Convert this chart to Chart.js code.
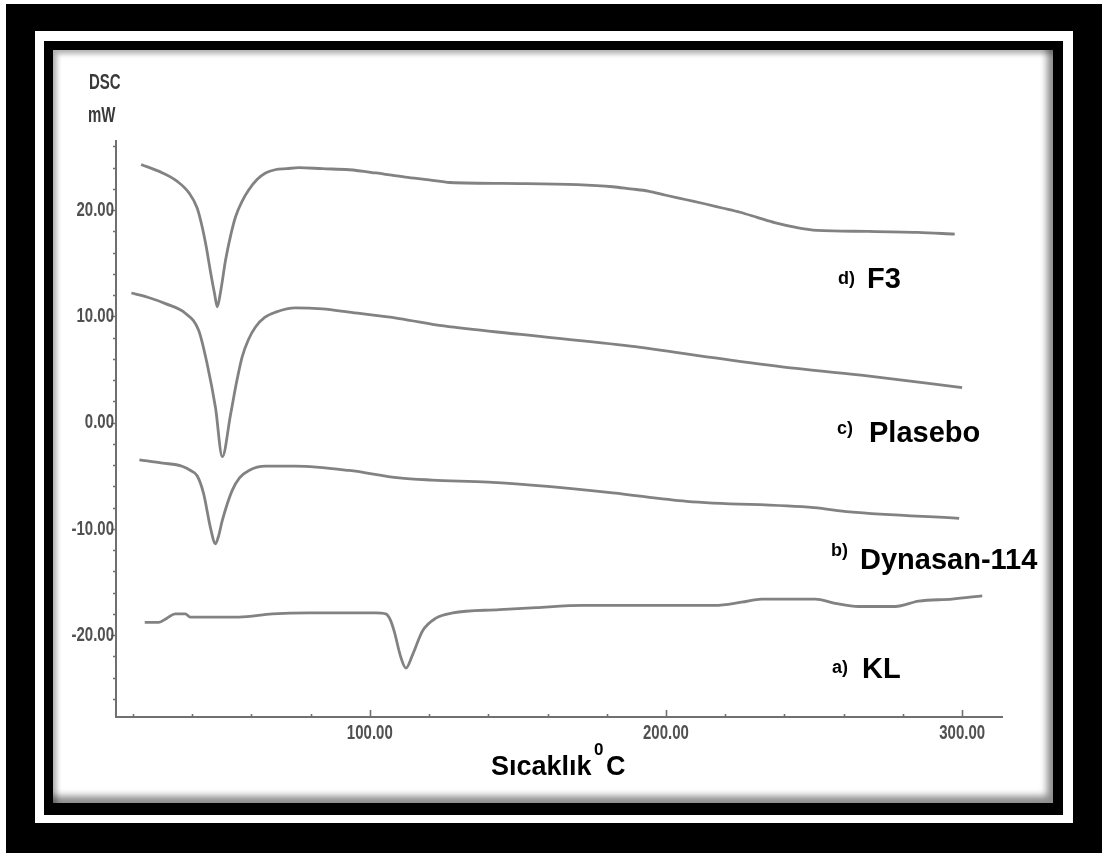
<!DOCTYPE html>
<html lang="tr">
<head>
<meta charset="utf-8">
<title>DSC - Sıcaklık</title>
<script src="https://cdn.jsdelivr.net/npm/chart.js@4.4.1/dist/chart.umd.min.js"></script>
<style>
  html, body { margin: 0; padding: 0; background: #fff; }
  .kat { position: absolute; }
  #dis { left: 6px; top: 4px; width: 1096px; height: 849px; background: #000; }
  #bosluk { left: 35px; top: 31px; width: 1038px; height: 792px; background: #fff; }
  #ic { left: 44px; top: 41px; width: 1019px; height: 774px; background: #000; }
  #panel {
    left: 53px; top: 50px; width: 1000px; height: 753px; background: #fff;
    box-shadow: inset -6px -7px 7px rgba(0,0,0,0.45), inset 4px 4px 5px rgba(0,0,0,0.3);
  }
  #grafik { position: absolute; left: 0; top: 0; }
</style>
</head>
<body>
<div class="kat" id="dis"></div>
<div class="kat" id="bosluk"></div>
<div class="kat" id="ic"></div>
<div class="kat" id="panel"></div>
<canvas id="grafik" width="1110" height="853"></canvas>

<script>
// Eksen değerleri
const xTicks = [100, 200, 300];
const xMinorTicks = [20, 40, 60, 80, 100, 120, 140, 160, 180, 200, 220, 240, 260, 280, 300];
const yTicks = [-20, -10, 0, 10, 20];
const yMinorTicks = [-26, -24, -22, -20, -18, -16, -14, -12, -10, -8, -6, -4, -2, 0,
  2, 4, 6, 8, 10, 12, 14, 16, 18, 20, 22, 24, 26];

// d) F3
const f3Temp = [22.8, 30, 35, 39, 41.7, 43.5, 44.8, 46.2, 47.6, 48.5, 49.6, 51.3, 53, 54.7, 57, 59.1,
  62, 64.8, 68, 72, 76, 84, 93, 102, 112, 120, 127, 151, 170, 182, 188, 194, 200, 206.5, 213, 219,
  225, 231, 237, 243.5, 251, 268, 285, 297.5];
const f3Heat = [24.3, 23.5, 22.7, 21.6, 20.2, 18.3, 16.5, 14.2, 12.1, 10.9, 12.3, 15.3, 17.6, 19.4, 20.9, 21.9,
  22.9, 23.5, 23.8, 23.9, 24.0, 23.9, 23.8, 23.5, 23.1, 22.85, 22.6, 22.5, 22.4, 22.2, 22.0, 21.8, 21.4, 21.0, 20.6, 20.2,
  19.8, 19.3, 18.8, 18.4, 18.1, 18.0, 17.9, 17.75];

// c) Plasebo
const plTemp = [19.5, 25, 31, 37.7, 42.2, 45.1, 47.9, 50.2, 53, 55, 56.9, 59, 61.4, 64.5, 68.2,
  74.9, 84, 93, 109.9, 125, 151, 188, 219, 244, 268, 300];
const plHeat = [12.2, 11.8, 11.2, 10.3, 8.7, 5.5, 1.4, -3.2, 0.8, 3.8, 6.2, 7.8, 9.0, 9.9, 10.4,
  10.8, 10.7, 10.4, 9.8, 9.1, 8.3, 7.2, 6.0, 5.1, 4.4, 3.3];

// b) Dynasan-114
const dyTemp = [22.2, 30, 36.6, 39.5, 41.7, 43.9, 46.2, 47.9, 49, 50.2, 53.5, 56, 59.2, 64.8, 74.9, 93,
  109.9, 121, 140, 160, 182, 207, 250, 262, 299];
const dyHeat = [-3.5, -3.8, -4.1, -4.5, -5.0, -6.7, -9.9, -11.4, -10.6, -9.2, -6.4, -5.2, -4.5, -4.1, -4.1, -4.5,
  -5.2, -5.4, -5.6, -6.0, -6.6, -7.4, -8.0, -8.4, -9.0];

// a) KL
const klTemp = [24, 28.7, 31.5, 34.3, 37.7, 39.4, 55.8, 67.1, 79.5, 102, 105.4, 107, 108.2, 110.5, 112.2,
  114.5, 117.8, 122.3, 128, 143.8, 156.2, 172, 183.2, 216.5, 225.5, 232.3, 250.4, 257.1, 265, 277.4,
  285.3, 296.6, 306.8];
const klHeat = [-18.8, -18.8, -18.4, -18.0, -18.0, -18.3, -18.3, -18.0, -17.9, -17.9, -18.0, -18.6, -19.6, -22.1, -23.1,
  -21.8, -19.6, -18.4, -17.9, -17.6, -17.4, -17.2, -17.2, -17.2, -16.9, -16.6, -16.6, -17.0, -17.3, -17.3,
  -16.8, -16.6, -16.3];

function seri(temps, heats) {
  return temps.map((t, i) => ({ x: t, y: heats[i] }));
}

function egri(name, temps, heats) {
  return {
    label: name,
    data: seri(temps, heats),
    borderColor: "#828282",
    borderWidth: 2.8,
    pointRadius: 0,
    fill: false,
    cubicInterpolationMode: "monotone",
  };
}

// Gerilmiş yazı (orijinaldeki dar yazı tipi gibi)
function yaz(ctx, text, px, py, align, stretch) {
  ctx.save();
  ctx.translate(px, py);
  ctx.scale(1, stretch || 1.35);
  ctx.textAlign = align;
  ctx.textBaseline = "middle";
  ctx.fillText(text, 0, 0);
  ctx.restore();
}

// Eksenler, çentikler ve yazılar
const eksenCizim = {
  id: "eksenCizim",
  afterDraw(chart) {
    const ctx = chart.ctx;
    const sx = chart.scales.x;
    const sy = chart.scales.y;
    const a = chart.chartArea;
    ctx.save();

    ctx.strokeStyle = "#707070";
    ctx.lineWidth = 2;
    ctx.beginPath();
    ctx.moveTo(a.left, a.top);
    ctx.lineTo(a.left, a.bottom);
    ctx.lineTo(a.right, a.bottom);
    ctx.stroke();

    ctx.lineWidth = 1.6;
    ctx.beginPath();
    yMinorTicks.forEach((v) => {
      const py = Math.round(sy.getPixelForValue(v)) + 0.5;
      const len = yTicks.includes(v) ? 5 : 3;
      ctx.moveTo(a.left - len, py);
      ctx.lineTo(a.left, py);
    });
    xMinorTicks.forEach((v) => {
      const px = Math.round(sx.getPixelForValue(v)) + 0.5;
      const len = xTicks.includes(v) ? 7 : 3;
      ctx.moveTo(px, a.bottom);
      ctx.lineTo(px, a.bottom - len);
    });
    ctx.stroke();

    ctx.fillStyle = "#505050";
    ctx.font = "bold 15px 'Liberation Sans', Arial, sans-serif";
    yTicks.forEach((v) => {
      yaz(ctx, v.toFixed(2), a.left - 2, sy.getPixelForValue(v), "right");
    });
    xTicks.forEach((v) => {
      yaz(ctx, v.toFixed(2), sx.getPixelForValue(v), a.bottom + 16, "center");
    });

    // DSC / mW
    ctx.fillStyle = "#3a3a3a";
    ctx.font = "bold 15px 'Liberation Sans', Arial, sans-serif";
    yaz(ctx, "DSC", 89, 83, "left", 1.5);
    yaz(ctx, "mW", 88, 116, "left", 1.45);

    // X ekseni başlığı
    ctx.fillStyle = "#000";
    ctx.textBaseline = "alphabetic";
    ctx.textAlign = "left";
    ctx.font = "bold 27px 'Liberation Sans', Arial, sans-serif";
    ctx.fillText("Sıcaklık", 491, 775);
    ctx.fillText("C", 606, 775);
    ctx.font = "bold 17px 'Liberation Sans', Arial, sans-serif";
    ctx.fillText("0", 594, 755);

    // Eğri etiketleri
    const etiketler = [
      ["d)", 838, 284, "F3", 867, 288],
      ["c)", 837, 434, "Plasebo", 869, 442],
      ["b)", 831, 556, "Dynasan-114", 860, 569],
      ["a)", 832, 673, "KL", 862, 678],
    ];
    etiketler.forEach((e) => {
      ctx.font = "bold 18px 'Liberation Sans', Arial, sans-serif";
      ctx.fillText(e[0], e[1], e[2]);
      ctx.font = "bold 29px 'Liberation Sans', Arial, sans-serif";
      ctx.fillText(e[3], e[4], e[5]);
    });

    ctx.restore();
  },
};

const config = {
  type: "line",
  data: {
    datasets: [
      egri("d) F3", f3Temp, f3Heat),
      egri("c) Plasebo", plTemp, plHeat),
      egri("b) Dynasan-114", dyTemp, dyHeat),
      egri("a) KL", klTemp, klHeat),
    ],
  },
  options: {
    responsive: false,
    animation: false,
    layout: { padding: { left: 116, top: 140, right: 107, bottom: 136 } },
    plugins: {
      legend: { display: false },
      tooltip: { enabled: false },
    },
    scales: {
      x: { type: "linear", min: 14.3, max: 313.8, display: false },
      y: { type: "linear", min: -27.7, max: 26.6, display: false },
    },
  },
  plugins: [eksenCizim],
};

window.onload = function () {
  const ctx = document.getElementById("grafik").getContext("2d");
  const grafik = new Chart(ctx, config);
};
</script>
</body>
</html>
